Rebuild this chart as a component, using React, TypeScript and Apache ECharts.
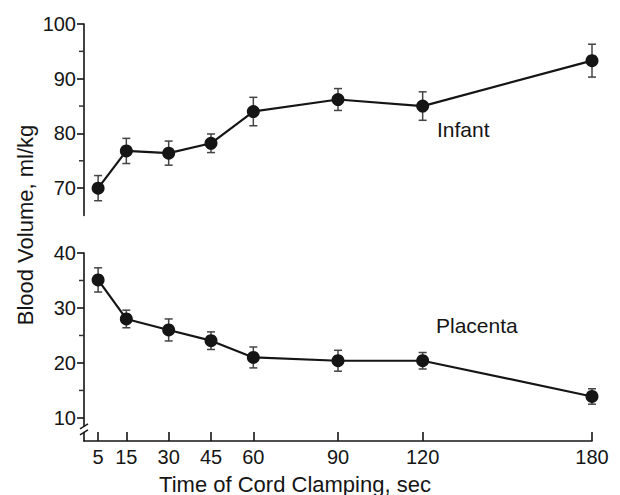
import React, { useEffect, useRef } from "react";
import * as echarts from "echarts";

const clampTimes = [5, 15, 30, 45, 60, 90, 120, 180];
const infantVolume = [70, 76.8, 76.4, 78.2, 84.0, 86.2, 85.0, 93.3];
const infantError = [2.3, 2.3, 2.2, 1.7, 2.6, 2.0, 2.6, 3.0];
const placentaVolume = [35.1, 28.0, 26.0, 24.05, 21.0, 20.4, 20.4, 13.9];
const placentaError = [2.2, 1.6, 2.0, 1.6, 1.9, 1.9, 1.5, 1.4];

const infantMajorTicks = [70, 80, 90, 100];
const infantMinorTicks = [75, 85, 95];
const placentaMajorTicks = [10, 20, 30, 40];
const placentaMinorTicks = [15, 25, 35];

const FONT = "Liberation Sans, Arial, sans-serif";
const INK = "#151515";

function errorBars(values: number[], errs: number[]) {
  return clampTimes.map((t, i) => [t, values[i] - errs[i], values[i] + errs[i]]);
}

function renderErr(params: any, api: any) {
  const x = api.value(0);
  const lo = api.coord([x, api.value(1)]);
  const hi = api.coord([x, api.value(2)]);
  const w = 4;
  const style = { stroke: "#444", lineWidth: 1.5 };
  return {
    type: "group",
    children: [
      { type: "line", shape: { x1: lo[0], y1: lo[1], x2: hi[0], y2: hi[1] }, style },
      { type: "line", shape: { x1: lo[0] - w, y1: lo[1], x2: lo[0] + w, y2: lo[1] }, style },
      { type: "line", shape: { x1: hi[0] - w, y1: hi[1], x2: hi[0] + w, y2: hi[1] }, style },
    ],
  };
}

export default function App() {
  const ref = useRef<HTMLDivElement>(null);
  useEffect(() => {
    if (!ref.current) return;
    const chart = echarts.init(ref.current, null, { renderer: "svg" });
    const axisLineStyle = { color: INK, width: 1.6 };
    const yLabel = { color: INK, fontSize: 20, fontFamily: FONT, margin: 8 };
    const option: any = {
      animation: false,
      backgroundColor: "#ffffff",
      grid: [
        { left: 84, right: 28, top: 24, height: 191.5, outerBoundsMode: "none" },
        { left: 84, right: 28, top: 253, bottom: 54, outerBoundsMode: "none" },
      ],
      xAxis: [
        { gridIndex: 0, type: "value", min: 0, max: 180, show: false },
        {
          gridIndex: 1,
          type: "value",
          min: 0,
          max: 180,
          splitLine: { show: false },
          axisLine: { lineStyle: axisLineStyle },
          axisTick: { inside: true, length: 9, customValues: clampTimes, lineStyle: axisLineStyle },
          axisLabel: { customValues: clampTimes, color: INK, fontSize: 20, fontFamily: FONT, margin: 6 },
        },
      ],
      yAxis: [
        {
          gridIndex: 0,
          type: "value",
          position: "left",
          min: 65,
          max: 100,
          splitLine: { show: false },
          axisLine: { show: true, lineStyle: axisLineStyle },
          axisTick: { length: 7, customValues: infantMajorTicks, lineStyle: axisLineStyle },
          axisLabel: { ...yLabel, customValues: infantMajorTicks },
        },
        {
          gridIndex: 1,
          type: "value",
          position: "left",
          min: 5.8,
          max: 40,
          splitLine: { show: false },
          axisLine: { show: true, lineStyle: axisLineStyle },
          axisTick: { length: 7, customValues: placentaMajorTicks, lineStyle: axisLineStyle },
          axisLabel: { ...yLabel, customValues: placentaMajorTicks },
        },
      ],
      series: [
        {
          name: "Infant error",
          type: "custom",
          xAxisIndex: 0,
          yAxisIndex: 0,
          z: 1,
          renderItem: renderErr,
          encode: { x: 0, y: [1, 2] },
          data: errorBars(infantVolume, infantError),
        },
        {
          name: "Infant",
          type: "line",
          xAxisIndex: 0,
          yAxisIndex: 0,
          z: 2,
          symbol: "circle",
          symbolSize: 13,
          itemStyle: { color: INK },
          lineStyle: { color: INK, width: 2.2 },
          data: clampTimes.map((t, i) => [t, infantVolume[i]]),
        },
        {
          name: "Placenta error",
          type: "custom",
          xAxisIndex: 1,
          yAxisIndex: 1,
          z: 1,
          renderItem: renderErr,
          encode: { x: 0, y: [1, 2] },
          data: errorBars(placentaVolume, placentaError),
        },
        {
          name: "Placenta",
          type: "line",
          xAxisIndex: 1,
          yAxisIndex: 1,
          z: 2,
          symbol: "circle",
          symbolSize: 13,
          itemStyle: { color: INK },
          lineStyle: { color: INK, width: 2.2 },
          data: clampTimes.map((t, i) => [t, placentaVolume[i]]),
        },
      ],
      graphic: [
        {
          type: "text",
          left: 437,
          top: 119,
          style: { text: "Infant", fill: INK, fontSize: 21, fontFamily: FONT },
        },
        {
          type: "text",
          left: 436,
          top: 315,
          style: { text: "Placenta", fill: INK, fontSize: 21, fontFamily: FONT },
        },
        {
          type: "text",
          x: 295,
          y: 484,
          style: {
            text: "Time of Cord Clamping, sec",
            fill: INK,
            fontSize: 22,
            fontFamily: FONT,
            align: "center",
            verticalAlign: "middle",
          },
        },
        {
          type: "text",
          x: 25,
          y: 225,
          rotation: Math.PI / 2,
          style: {
            text: "Blood Volume, ml/kg",
            fill: INK,
            fontSize: 22,
            fontFamily: FONT,
            align: "center",
            verticalAlign: "middle",
          },
        },
      ],
    };
    chart.setOption(option);

    const extra: any[] = [];
    const addMinor = (xi: number, yi: number, vals: number[]) => {
      vals.forEach((v) => {
        const q = chart.convertToPixel({ xAxisIndex: xi, yAxisIndex: yi } as any, [0, v]) as number[];
        if (q && isFinite(q[0]) && isFinite(q[1])) {
          extra.push({
            type: "line",
            shape: { x1: q[0] - 5, y1: q[1], x2: q[0], y2: q[1] },
            style: { stroke: "#333", lineWidth: 1.5 },
            z: 100,
          });
        }
      });
    };
    addMinor(0, 0, infantMinorTicks);
    addMinor(1, 1, placentaMinorTicks);

    // axis break marks on the lower y axis
    const p = chart.convertToPixel({ xAxisIndex: 1, yAxisIndex: 1 } as any, [0, 7.9]) as number[];
    if (p && isFinite(p[0]) && isFinite(p[1])) {
      const bx = p[0];
      const by = p[1];
      extra.push(
        { type: "rect", shape: { x: bx - 3, y: by - 2.5, width: 6, height: 5 }, style: { fill: "#fff" }, z: 100 },
        { type: "line", shape: { x1: bx - 4, y1: by - 0.5, x2: bx + 4, y2: by - 5.5 }, style: { stroke: INK, lineWidth: 1.4 }, z: 101 },
        { type: "line", shape: { x1: bx - 4, y1: by + 5.5, x2: bx + 4, y2: by + 0.5 }, style: { stroke: INK, lineWidth: 1.4 }, z: 101 }
      );
    }
    chart.setOption({ graphic: [...option.graphic, ...extra] });

    return () => chart.dispose();
  }, []);
  return <div ref={ref} style={{ position: "absolute", left: 0, top: 0, width: 620, height: 495 }} />;
}
